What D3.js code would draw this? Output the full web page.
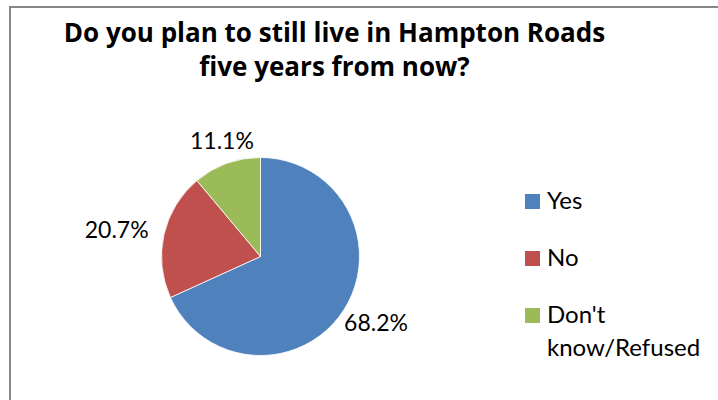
<!DOCTYPE html>
<html>
<head>
<meta charset="utf-8">
<script src="https://cdn.jsdelivr.net/npm/d3@7"></script>
<style>
  html, body { margin: 0; padding: 0; background: #fff; }
  svg { display: block; }
  text { font-family: Lato, "Open Sans", sans-serif; fill: #000; }
  .title { font-family: "Open Sans", Lato, sans-serif; }
</style>
</head>
<body>
<svg id="chart" width="718" height="400"></svg>
<script>
// Survey answers
const categories = ["Yes", "No", "Don't know/Refused"];
const shares = [68.2, 20.7, 11.1];
const valueLabels = ["68.2%", "20.7%", "11.1%"];
const legendLines = [["Yes"], ["No"], ["Don't", "know/Refused"]];
const titleLines = ["Do you plan to still live in Hampton Roads", "five years from now?"];
const palette = ["#4F81BD", "#C0504D", "#9BBB59"];

const svg = d3.select("#chart");

// Chart frame
svg.append("rect")
  .attr("x", 10).attr("y", 7)
  .attr("width", 720).attr("height", 410)
  .attr("fill", "#fff")
  .attr("stroke", "#868686")
  .attr("stroke-width", 2);

// Title
const title = svg.append("text")
  .attr("class", "title")
  .attr("text-anchor", "middle")
  .attr("font-weight", "bold")
  .attr("font-size", 26);
title.selectAll("tspan").data(titleLines).join("tspan")
  .attr("x", 334.5)
  .attr("y", (d, i) => 42 + i * 33.5)
  .text(d => d);

// Pie
const cx = 260.5, cy = 256.5, radius = 99;
const color = d3.scaleOrdinal().domain(categories).range(palette);
const pie = d3.pie().sort(null).value(d => d.value).startAngle(0).endAngle(2 * Math.PI);
const rows = categories.map((c, i) => ({ name: c, value: shares[i], label: valueLabels[i] }));
const arcs = pie(rows);
const arc = d3.arc().innerRadius(0).outerRadius(radius);

const g = svg.append("g").attr("transform", `translate(${cx},${cy})`);
g.selectAll("path").data(arcs).join("path")
  .attr("d", arc)
  .attr("fill", d => color(d.data.name))
  .attr("stroke", "#fff")
  .attr("stroke-width", 0.8);

// Value labels outside each slice: anchored just past the rim on the
// mid-angle, then nudged outwards by the label's own size
const labelSize = 23;
const labelArc = d3.arc().innerRadius(radius + 9).outerRadius(radius + 9);
const labels = g.selectAll("text.value").data(arcs).join("text")
  .attr("class", "value")
  .attr("font-size", labelSize)
  .attr("text-anchor", "middle")
  .text(d => d.data.label);

labels.each(function (d) {
  const w = this.getComputedTextLength();
  const capH = labelSize * 0.72;
  const a = (d.startAngle + d.endAngle) / 2;
  const s = Math.sin(a), c = Math.cos(a);
  const [ax, ay] = labelArc.centroid(d);
  const x = ax + 1.3 * s * s * s * w / 2;
  const y = ay - c * labelSize * 0.65;
  d3.select(this).attr("x", x).attr("y", y + capH / 2);
});

// Legend
const legendSize = 24;
const legend = svg.append("g").attr("transform", "translate(525,0)");
const items = legend.selectAll("g").data(categories).join("g")
  .attr("transform", (d, i) => `translate(0,${209 + i * 57})`);
items.append("rect")
  .attr("x", 0).attr("y", -15)
  .attr("width", 15).attr("height", 15)
  .attr("fill", d => color(d));
items.append("text")
  .attr("font-size", legendSize)
  .selectAll("tspan").data((d, i) => legendLines[i]).join("tspan")
  .attr("x", 22)
  .attr("y", (d, j) => j * 33)
  .text(d => d);
</script>
</body>
</html>
